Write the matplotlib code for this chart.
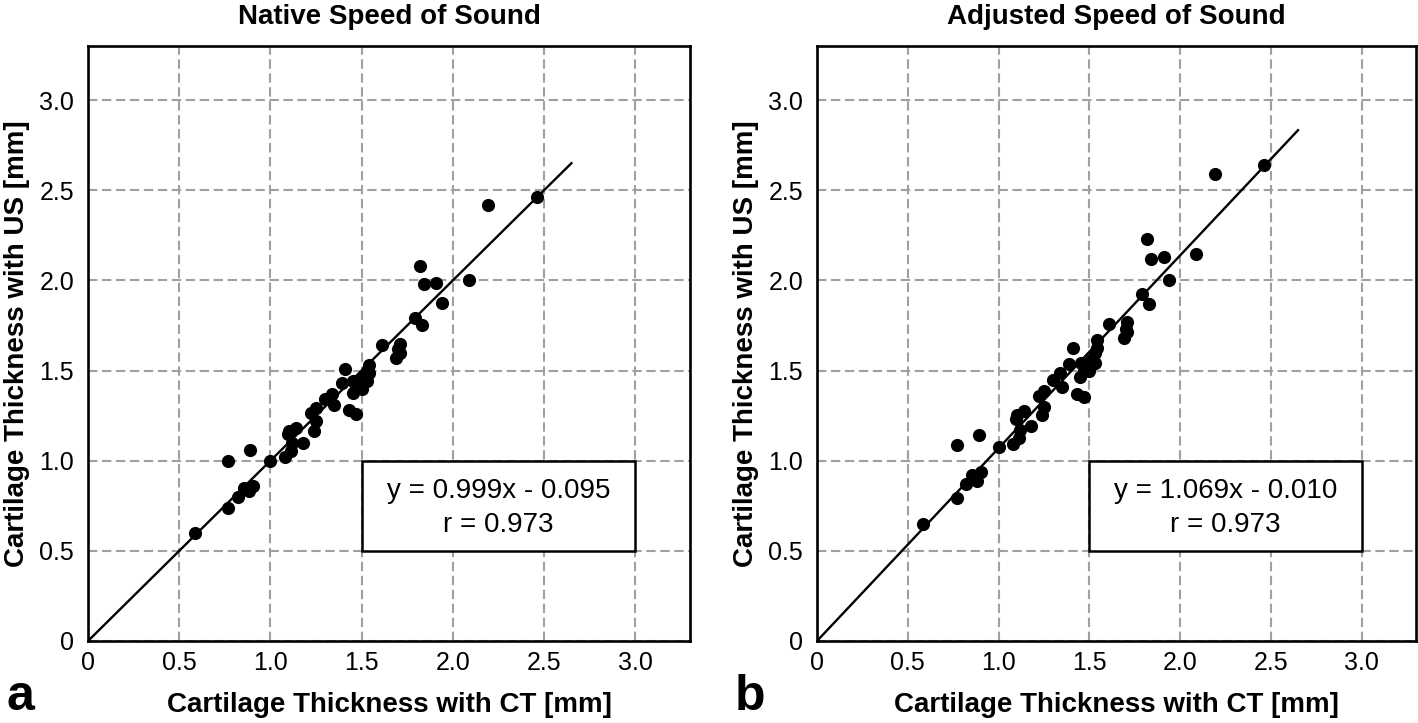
import matplotlib
matplotlib.use('Agg')
import matplotlib.pyplot as plt
from matplotlib.ticker import FixedLocator, FixedFormatter

# CT thickness (mm), shared by both panels
ct = [0.585, 0.77, 0.77, 0.89, 0.82, 0.855, 0.88, 0.905, 1.0, 1.08, 1.115, 1.10, 1.14,
      1.095, 1.18, 1.24, 1.225, 1.25, 1.30, 1.34, 1.35, 1.39, 1.41, 1.43, 1.47, 1.455,
      1.45, 1.50, 1.53, 1.54, 1.54, 1.61, 1.69, 1.71, 1.71, 1.79, 1.83, 1.82, 1.84, 1.91,
      1.94, 2.09, 2.19, 2.46, 1.53, 1.51, 1.47, 1.12, 1.25, 1.70]
us_native = [0.60, 0.74, 1.00, 1.06, 0.80, 0.85, 0.83, 0.86, 1.00, 1.02, 1.055, 1.165, 1.18,
             1.15, 1.10, 1.165, 1.265, 1.29, 1.34, 1.37, 1.31, 1.43, 1.51, 1.28, 1.26, 1.44,
             1.375, 1.395, 1.44, 1.53, 1.485, 1.64, 1.57, 1.595, 1.65, 1.79, 1.75, 2.08, 1.98,
             1.985, 1.875, 2.0, 2.42, 2.46, 1.50, 1.46, 1.41, 1.10, 1.22, 1.62]
us_adjusted = [0.65, 0.795, 1.086, 1.143, 0.868, 0.918, 0.885, 0.94, 1.077, 1.095, 1.128, 1.256,
               1.275, 1.23, 1.19, 1.253, 1.357, 1.388, 1.449, 1.485, 1.407, 1.535, 1.626, 1.372,
               1.353, 1.54, 1.462, 1.495, 1.54, 1.668, 1.623, 1.76, 1.678, 1.714, 1.769, 1.925,
               1.87, 2.231, 2.117, 2.13, 2.004, 2.145, 2.59, 2.639, 1.60, 1.56, 1.50, 1.17,
               1.30, 1.73]

titles = ['Native Speed of Sound', 'Adjusted Speed of Sound']
panel_letters = ['a', 'b']
equations = ['y = 0.999x - 0.095\nr = 0.973', 'y = 1.069x - 0.010\nr = 0.973']
line_slopes = [1.0, 1.069]   # drawn fit line through origin
line_end = 2.65
ticks = [0, 0.5, 1.0, 1.5, 2.0, 2.5, 3.0]
tick_labels = ['0', '0.5', '1.0', '1.5', '2.0', '2.5', '3.0']

plt.rcParams['font.family'] = ['Liberation Sans', 'DejaVu Sans']

W, H = 1418, 723
fig = plt.figure(figsize=(W / 100, H / 100), dpi=100)
# axes boxes in pixels: left, right, bottom, top
boxes = [(88, 690, 641, 46), (817, 1416, 641, 46)]
letter_x = [6, 735]

for i, us in enumerate([us_native, us_adjusted]):
    l, r, b, t = boxes[i]
    ax = fig.add_axes([l / W, 1 - b / H, (r - l) / W, (b - t) / H])
    ax.set_xlim(0, 3.3)
    ax.set_ylim(0, 3.3)
    ax.xaxis.set_major_locator(FixedLocator(ticks))
    ax.xaxis.set_major_formatter(FixedFormatter(tick_labels))
    ax.yaxis.set_major_locator(FixedLocator(ticks))
    ax.yaxis.set_major_formatter(FixedFormatter(tick_labels))
    ax.tick_params(length=0, labelsize=18)
    ax.tick_params(axis='x', pad=7)
    ax.tick_params(axis='y', pad=10)
    ax.grid(True, color='#a0a0a0', linestyle=(0, (4.5, 2.2)), linewidth=1.5)
    ax.set_axisbelow(True)
    for sp in ax.spines.values():
        sp.set_linewidth(1.9)
        sp.set_color('black')

    ax.plot([0, line_end], [0, line_slopes[i] * line_end], color='black', lw=1.7, zorder=2)
    ax.scatter(ct, us, s=90, color='black', zorder=3, linewidths=0)

    ax.add_patch(plt.Rectangle((1.5, 0.5), 1.5, 0.5, facecolor='white',
                               edgecolor='black', lw=1.8, zorder=4))
    ax.text(2.25, 0.735, equations[i], ha='center', va='center', fontsize=20,
            linespacing=1.4, zorder=5)

    ax.set_title(titles[i], fontsize=20, fontweight='bold', pad=16)
    cx = (l + r) / 2 / W
    fig.text(cx, 1 - 712 / H, 'Cartilage Thickness with CT [mm]', fontsize=20,
             fontweight='bold', ha='center', va='baseline')
    fig.text((l - 71) / W, 1 - (b + t) / 2 / H, 'Cartilage Thickness with US [mm]',
             fontsize=20, fontweight='bold', ha='center', va='center', rotation=90)
    fig.text(letter_x[i] / W, 1 - 710 / H, panel_letters[i], fontsize=36,
             fontweight='bold', ha='left', va='baseline')

fig.savefig('out.png', dpi=100)
